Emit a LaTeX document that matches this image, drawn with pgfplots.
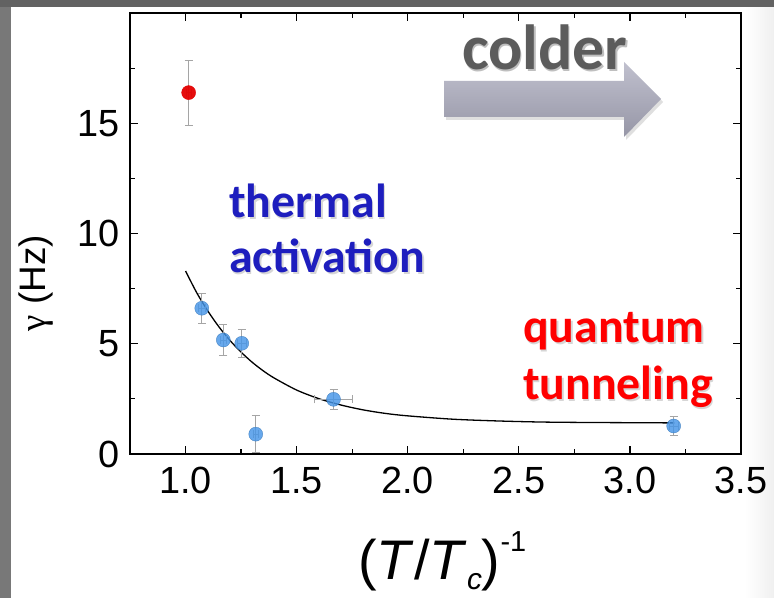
\documentclass[border=0pt]{standalone}
\usepackage{pgfplots}
\pgfplotsset{compat=1.18}
\usepackage{pgfplotstable}
\usepackage{fontspec}
\setmainfont{Liberation Sans}
\newfontfamily\calibri{Carlito}
\newfontfamily\greekserif{Liberation Serif}
\usetikzlibrary{shadows}

\definecolor{slidegray}{RGB}{120,120,120}
\definecolor{topgray}{RGB}{98,98,98}
\definecolor{ptblue}{RGB}{70,150,232}
\definecolor{ptred}{RGB}{228,0,0}
\definecolor{barsgray}{RGB}{165,165,165}
\definecolor{thermblue}{RGB}{30,30,190}
\definecolor{arrowtop}{RGB}{192,192,206}
\definecolor{arrowbot}{RGB}{150,150,166}
\definecolor{coldgray}{RGB}{92,92,92}

% rate measurements: x = (T/Tc)^-1, y = gamma in Hz
\pgfplotstableread{
x      y     ex     ey
1.073  6.61  0.015  0.68
1.170  5.17  0.015  0.70
1.253  5.02  0.020  0.64
1.316  0.90  0.010  0.84
1.666  2.48  0.086  0.47
3.197  1.27  0.020  0.42
}\thermaldata

\pgfplotstableread{
x      y      ex     ey
1.014  16.39  0.012  1.47
}\hotdata

% fitted decay
\pgfplotstableread{
x     y
1.00  8.30
1.05  7.32
1.10  6.49
1.15  5.77
1.20  5.15
1.25  4.62
1.30  4.16
1.35  3.77
1.40  3.44
1.50  2.90
1.60  2.51
1.70  2.22
1.80  2.00
1.90  1.84
2.00  1.73
2.20  1.58
2.40  1.50
2.60  1.45
2.80  1.43
3.00  1.42
3.20  1.41
}\fitdata

\begin{document}
\begin{tikzpicture}
\useasboundingbox (0,0) rectangle (774bp,598bp);
\fill[white] (0,0) rectangle (774bp,598bp);
\shade[left color=white,right color=black!6] (745bp,0) rectangle (774bp,598bp);
\fill[slidegray] (0,0) rectangle (11bp,598bp);
\fill[topgray] (0,591bp) rectangle (774bp,598bp);

\begin{axis}[
  at={(130bp,144bp)}, anchor=south west,
  scale only axis, width=611bp, height=441bp,
  xmin=0.75, xmax=3.5, ymin=0, ymax=20,
  xtick={1,1.5,2,2.5,3,3.5},
  xticklabels={1.0,1.5,2.0,2.5,3.0,3.5},
  ytick={0,5,10,15},
  minor xtick={1.25,1.75,2.25,2.75,3.25},
  minor ytick={2.5,7.5,12.5,17.5},
  tick align=inside,
  major tick length=8bp, minor tick length=5bp,
  axis line style={line width=1.4bp},
  every tick/.style={black, line width=1.2bp},
  /pgf/number format/assume math mode=true,
  ticklabel style={font=\fontsize{38}{40}\selectfont},
  xticklabel style={inner sep=0pt, yshift=-13bp},
  yticklabel style={inner sep=0pt, xshift=-10bp},
  clip=false,
]
\addplot[black, line width=1.3bp, smooth] table[x=x, y=y] {\fitdata};

\addplot[only marks, mark=*, mark size=7bp,
  mark options={fill=ptblue, draw=ptblue!80!black, line width=0.4bp, fill opacity=0.82, draw opacity=0.82},
  error bars/.cd, x dir=both, x explicit, y dir=both, y explicit,
  error bar style={barsgray, line width=0.7bp},
  error mark=|,
  error mark options={barsgray, mark size=4bp, line width=0.7bp}]
  table[x=x, y=y, x error=ex, y error=ey] {\thermaldata};

\addplot[only marks, mark=*, mark size=7bp,
  mark options={fill=ptred, draw=ptred, line width=0.4bp, fill opacity=0.95},
  error bars/.cd, x dir=both, x explicit, y dir=both, y explicit,
  error bar style={barsgray, line width=0.7bp},
  error mark=|,
  error mark options={barsgray, mark size=4bp, line width=0.7bp}]
  table[x=x, y=y, x error=ex, y error=ey] {\hotdata};
\end{axis}

\begin{scope}[x=1bp, y=-1bp, shift={(0,598bp)}]
  % direction arrow
  \path[top color=arrowtop, bottom color=arrowbot,
        drop shadow={opacity=0.25, shadow xshift=2bp, shadow yshift=-3bp}]
    (444,81) -- (624,81) -- (624,62) -- (661,99) -- (624,137) -- (624,117) -- (444,117) -- cycle;
  \node[anchor=base west, inner sep=0, text=black!25,
        font=\calibri\bfseries\fontsize{64}{64}\selectfont] at (463.2,71.2) {colder};
  \node[anchor=base west, inner sep=0, text=coldgray,
        font=\calibri\bfseries\fontsize{64}{64}\selectfont] at (462,70) {colder};

  % regime labels
  \begin{scope}[every node/.style={anchor=base west, inner sep=0,
        font=\calibri\bfseries\fontsize{48}{48}\selectfont}]
    \node[text=black, opacity=0.16] at (230.5,219.5) {thermal};
    \node[text=black, opacity=0.16] at (230.5,274.5) {activation};
    \node[text=thermblue] at (229,218) {thermal};
    \node[text=thermblue] at (229,273) {activation};
    \node[text=black, opacity=0.16] at (524.5,344.5) {quantum};
    \node[text=black, opacity=0.16] at (524.5,401.5) {tunneling};
    \node[text=red] at (523,343) {quantum};
    \node[text=red] at (523,400) {tunneling};
  \end{scope}

  % axis titles
  \node[rotate=90, anchor=base, inner sep=0, font=\fontsize{37}{40}\selectfont]
    at (45,283) {{\greekserif γ} (Hz)};
  \node[anchor=base west, inner sep=0, font=\fontsize{56}{60}\selectfont]
    at (358,580) {(\textit{T}/\textit{T}\raisebox{-10bp}{\fontsize{30}{30}\selectfont\textit{c}})\raisebox{28bp}{\fontsize{29}{30}\selectfont -1}};
\end{scope}
\end{tikzpicture}
\end{document}
